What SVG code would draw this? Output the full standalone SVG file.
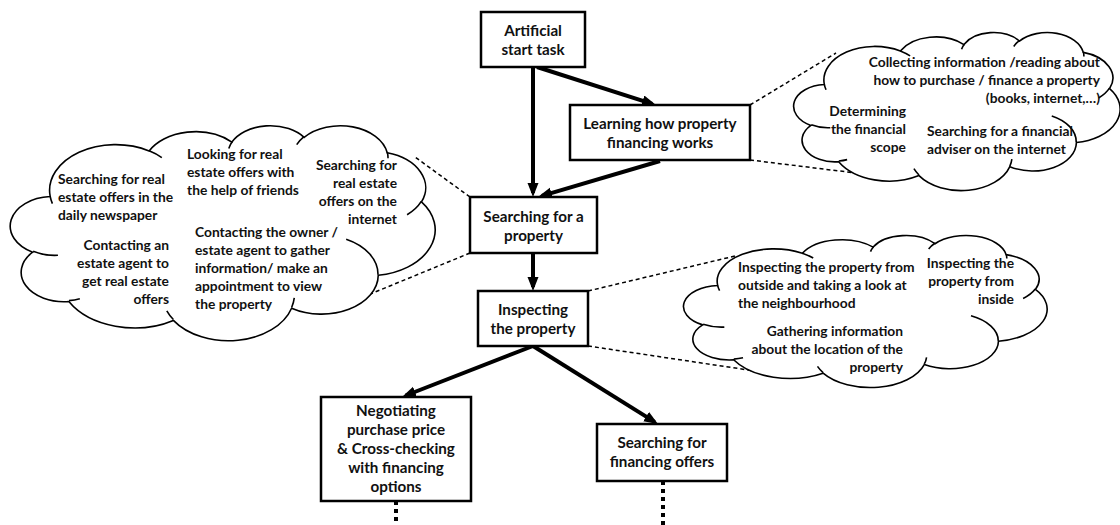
<svg xmlns="http://www.w3.org/2000/svg" xmlns:xlink="http://www.w3.org/1999/xlink" width="1120" height="525" viewBox="0 0 1120 525">
<style>
.box{fill:#fff;stroke:#000;stroke-width:2.5}
.bt{font-family:Lato,"Liberation Sans",sans-serif;font-weight:700;font-size:15.2px;text-anchor:middle;fill:#111}
.ct{font-family:Lato,"Liberation Sans",sans-serif;font-weight:700;font-size:13.8px;fill:#111}
.r{text-anchor:end}
.arrow{stroke:#000;stroke-width:4;fill:none;marker-end:url(#ah)}
.dash{stroke:#000;stroke-width:1.5;stroke-dasharray:4 3;fill:none}
.dot{stroke:#000;stroke-width:4;stroke-dasharray:4 4;fill:none}
.cl{fill:#fff;stroke:#000;stroke-width:1.6;vector-effect:non-scaling-stroke}
.cd{fill:none;stroke:#000;stroke-width:1.6;vector-effect:non-scaling-stroke}
</style>
<defs>
<marker id="ah" markerUnits="userSpaceOnUse" markerWidth="15" markerHeight="12" refX="10" refY="5.5" orient="auto">
<path d="M0,0 L14,5.5 L0,11 Z" fill="#000"/>
</marker>
<g id="cloud">
<path class="cl" d="M3900 14370 A6753 9190 0 0 1 14005 5203 A5333 7267 0 0 1 22457 3433 A4365 5945 0 0 1 29834 2481 A4857 6595 0 0 1 38319 5577 A5333 7273 0 0 1 41819 15460 A6775 9220 0 0 1 37404 30202 A5785 7867 0 0 1 28555 36812 A6752 9215 0 0 1 16481 39264 A7720 10543 0 0 1 5805 35469 A4360 5918 0 0 1 2113 25547 A4345 5945 0 0 1 3900 14370 Z"/>
<path class="cd" d="M4693 26177 A4345 5945 0 0 1 2160 25380 M6928 34899 A4360 5918 0 0 1 5820 35281 M16478 39090 A6752 9215 0 0 1 15810 37349 M28827 34751 A6752 9215 0 0 1 28560 36660 M34129 22954 A5785 7867 0 0 1 37381 30090 M41798 15354 A5333 7273 0 0 1 40350 18030 M38324 5426 A4857 6595 0 0 1 38401 6690 M29078 3952 A4857 6595 0 0 1 29820 2339 M22141 4720 A4365 5945 0 0 1 22500 3331 M14000 5192 A6753 9190 0 0 1 15300 6541 M4127 15789 A6753 9190 0 0 1 3900 14370"/>
</g>
</defs>
<rect width="1120" height="525" fill="#fff"/>
<g id="connectors">
<line class="arrow" x1="533" y1="67" x2="533" y2="193"/>
<line class="arrow" x1="537" y1="67" x2="652.2" y2="103.8"/>
<line class="arrow" x1="660" y1="161" x2="541.8" y2="195.9"/>
<line class="arrow" x1="533" y1="253" x2="533" y2="287"/>
<line class="arrow" x1="533" y1="346" x2="405.7" y2="395.5"/>
<line class="arrow" x1="533" y1="346" x2="654.6" y2="421.9"/>
<line class="dash" x1="750" y1="105" x2="836" y2="53"/>
<line class="dash" x1="750" y1="160" x2="872" y2="175"/>
<line class="dash" x1="470" y1="197" x2="415" y2="157"/>
<line class="dash" x1="470" y1="253" x2="363" y2="297"/>
<line class="dash" x1="588" y1="291" x2="735" y2="256"/>
<line class="dash" x1="588" y1="346" x2="755" y2="371"/>
<line class="dot" x1="396" y1="501" x2="396" y2="525"/>
<line class="dot" x1="663" y1="481" x2="663" y2="525"/>
</g>
<g id="cloud-financing">
<use xlink:href="#cloud" href="#cloud" transform="translate(795,32) scale(0.0075231,0.0036574)"/>
<text class="ct r"><tspan x="1100" y="67">Collecting information  /reading about</tspan><tspan x="1100" y="85">how to purchase / finance a property</tspan><tspan x="1100" y="103">(books, internet,…)</tspan></text>
<text class="ct r"><tspan x="906" y="116">Determining</tspan><tspan x="906" y="134">the financial</tspan><tspan x="906" y="152">scope</tspan></text>
<text class="ct"><tspan x="927" y="136">Searching for a financial</tspan><tspan x="927" y="154">adviser on the internet</tspan></text>
</g>
<g id="cloud-search">
<use xlink:href="#cloud" href="#cloud" transform="translate(12,125) scale(0.0097917,0.0049769)"/>
<text class="ct"><tspan x="58" y="184">Searching for real</tspan><tspan x="58" y="202">estate offers in the</tspan><tspan x="58" y="220">daily newspaper</tspan></text>
<text class="ct"><tspan x="187" y="159">Looking for real</tspan><tspan x="187" y="177">estate offers with</tspan><tspan x="187" y="195">the help of friends</tspan></text>
<text class="ct r"><tspan x="397" y="170">Searching for</tspan><tspan x="397" y="188">real estate</tspan><tspan x="397" y="206">offers on the</tspan><tspan x="397" y="224">internet</tspan></text>
<text class="ct r"><tspan x="169" y="250">Contacting an</tspan><tspan x="169" y="268">estate agent to</tspan><tspan x="169" y="286">get real estate</tspan><tspan x="169" y="304">offers</tspan></text>
<text class="ct"><tspan x="195" y="237">Contacting the owner /</tspan><tspan x="195" y="255">estate agent to gather</tspan><tspan x="195" y="273">information/ make an</tspan><tspan x="195" y="291">appointment to view</tspan><tspan x="195" y="309">the property</tspan></text>
</g>
<g id="cloud-inspect">
<use xlink:href="#cloud" href="#cloud" transform="translate(685,235) scale(0.0083796,0.0035185)"/>
<text class="ct"><tspan x="738" y="272">Inspecting the property from</tspan><tspan x="738" y="290">outside and taking a look at</tspan><tspan x="738" y="308">the neighbourhood</tspan></text>
<text class="ct r"><tspan x="1014" y="268">Inspecting the</tspan><tspan x="1014" y="286">property from</tspan><tspan x="1014" y="304">inside</tspan></text>
<text class="ct r"><tspan x="903" y="336">Gathering information</tspan><tspan x="903" y="354">about the location of the</tspan><tspan x="903" y="372">property</tspan></text>
</g>
<g id="node-start">
<rect class="box" x="481" y="12" width="104" height="55"/>
<text class="bt"><tspan x="533" y="36">Artificial</tspan><tspan x="533" y="55">start task</tspan></text>
</g>
<g id="node-learning">
<rect class="box" x="570" y="105" width="180" height="55"/>
<text class="bt"><tspan x="660" y="129">Learning how property</tspan><tspan x="660" y="148">financing works</tspan></text>
</g>
<g id="node-search">
<rect class="box" x="470" y="197" width="127" height="56"/>
<text class="bt"><tspan x="533.5" y="222">Searching for a</tspan><tspan x="533.5" y="241">property</tspan></text>
</g>
<g id="node-inspect">
<rect class="box" x="478" y="291" width="110" height="55"/>
<text class="bt"><tspan x="533" y="315">Inspecting</tspan><tspan x="533" y="334">the property</tspan></text>
</g>
<g id="node-negotiate">
<rect class="box" x="321" y="397" width="150" height="104"/>
<text class="bt"><tspan x="396" y="416">Negotiating</tspan><tspan x="396" y="435">purchase price</tspan><tspan x="396" y="454">&amp; Cross-checking</tspan><tspan x="396" y="473">with financing</tspan><tspan x="396" y="492">options</tspan></text>
</g>
<g id="node-financing">
<rect class="box" x="597" y="424" width="130" height="57"/>
<text class="bt"><tspan x="662" y="448">Searching for</tspan><tspan x="662" y="467">financing offers</tspan></text>
</g>
</svg>
